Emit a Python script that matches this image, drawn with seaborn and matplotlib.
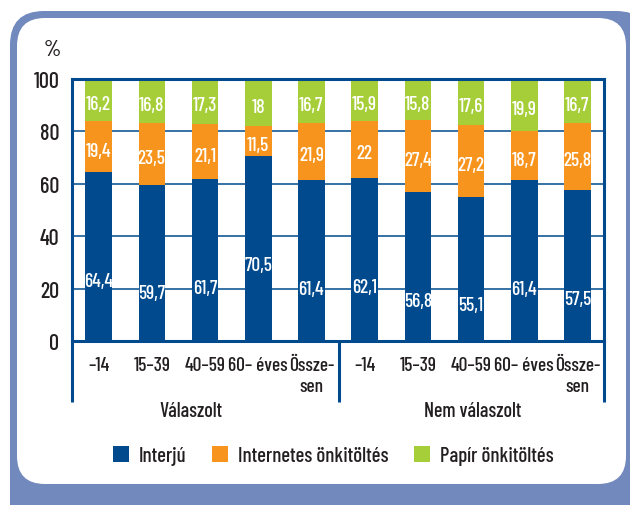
import matplotlib
matplotlib.use("Agg")
import matplotlib.pyplot as plt
from matplotlib import font_manager
from matplotlib.patches import FancyBboxPatch, Patch
from matplotlib.transforms import IdentityTransform
from matplotlib.lines import Line2D
import seaborn as sns
import pandas as pd

# ---- data ----
groups = ["Válaszolt", "Nem válaszolt"]
age_labels = ["–14", "15–39", "40–59", "60– éves", "Össze-\nsen"]
series_names = ["Interjú", "Internetes önkitöltés", "Papír önkitöltés"]
interju = [64.4, 59.7, 61.7, 70.5, 61.4, 62.1, 56.8, 55.1, 61.4, 57.5]
internetes = [19.4, 23.5, 21.1, 11.5, 21.9, 22.0, 27.4, 27.2, 18.7, 25.8]
papir = [16.2, 16.8, 17.3, 18.0, 16.7, 15.9, 15.8, 17.6, 19.9, 16.7]
y_ticks = [0, 20, 40, 60, 80, 100]

colors = ["#004A8D", "#F7941E", "#A6CE39"]
navy = "#004A8D"
frame_col = "#7189BD"
text_col = "#231F20"

names = {f.name for f in font_manager.fontManager.ttflist}
font = "DejaVu Sans"
for cand in ["Barlow Condensed", "Sofia Sans Condensed", "Archivo Narrow", "Saira ExtraCondensed"]:
    if cand in names:
        font = cand
        break

sns.set_theme(style="white")
plt.rcParams["font.family"] = [font, "DejaVu Sans"]
plt.rcParams["font.weight"] = "medium"
plt.rcParams["text.color"] = text_col

keys = [f"{g}|{a}" for g in groups for a in age_labels]
df = pd.DataFrame({
    "key": keys,
    "Interjú": interju,
    "Internetes": internetes,
    "Papír": papir,
})
df["c1"] = df["Interjú"]
df["c2"] = df["Interjú"] + df["Internetes"]
df["c3"] = df["c2"] + df["Papír"]

fig = plt.figure(figsize=(6.3, 5.06), dpi=100)

# frame
outer = FancyBboxPatch((10, -40), 640, 40 + 494, boxstyle="round,pad=0,rounding_size=34",
                       transform=IdentityTransform(), facecolor=frame_col, edgecolor="none", zorder=0)
inner = FancyBboxPatch((17, 506 - 485), 626 - 17, 485 - 19, boxstyle="round,pad=0,rounding_size=28",
                       transform=IdentityTransform(), facecolor="white", edgecolor="none", zorder=0)
fig.add_artist(outer)
fig.add_artist(inner)

ax = fig.add_axes([72 / 630, 164 / 506, 532 / 630, 262 / 506])
ax.patch.set_alpha(0)

for col, c in zip(["c3", "c2", "c1"], [colors[2], colors[1], colors[0]]):
    sns.barplot(data=df, x="key", y=col, order=keys, color=c, width=0.5,
                saturation=1, ax=ax, edgecolor="none", linewidth=0)

fs = 14
ax.set_xlim(-0.5, 9.5)
ax.set_ylim(0, 100)
ax.set_yticks(y_ticks)
ax.set_yticklabels([str(t) for t in y_ticks], fontsize=16, color=text_col)
ax.set_xticks(range(len(keys)))
ax.set_xticklabels(age_labels * 2, fontsize=fs, color=text_col, linespacing=1.2)
ax.tick_params(axis="y", length=0, pad=9)
ax.tick_params(axis="x", length=0, pad=11)
ax.set_xlabel("")
ax.set_ylabel("")
ax.set_axisbelow(True)
for t in [20, 40, 60, 80]:
    ax.axhline(t, color=navy, lw=1.1, zorder=0.5)

for s in ["left", "right", "top", "bottom"]:
    ax.spines[s].set_visible(True)
    ax.spines[s].set_color(navy)
    ax.spines[s].set_linewidth(2.2)

# extensions below the axis
ext = -(403 - 342) / 262
for xa in [0, 0.501, 1]:
    ax.add_line(Line2D([xa, xa], [0, ext], transform=ax.transAxes, color=navy,
                       lw=2.2, clip_on=False, solid_capstyle="butt"))

# value labels
def fmt(v):
    return f"{v:g}".replace(".", ",")

for i in range(len(keys)):
    a, b, c = interju[i], internetes[i], papir[i]
    ax.text(i, a - 41.5, fmt(a), ha="center", va="center", color="white", fontsize=fs)
    ax.text(i, a + b / 2 - 1.5, fmt(b), ha="center", va="center", color="white", fontsize=fs)
    ax.text(i, a + b + c / 2 - 1.5, fmt(c), ha="center", va="center", color="white", fontsize=fs)

# group labels
ax.text(1.73, -0.265, groups[0], transform=ax.get_xaxis_transform(), ha="center",
        va="center", fontsize=14.5, color=text_col, clip_on=False)
ax.text(7.03, -0.265, groups[1], transform=ax.get_xaxis_transform(), ha="center",
        va="center", fontsize=14.5, color=text_col, clip_on=False)

ax.text(-0.038, 1.115, "%", transform=ax.transAxes, ha="center", va="center",
        fontsize=16, color=text_col)

handles = [Patch(facecolor=c, edgecolor="none") for c in colors]
fig.legend(handles, series_names, loc="center", bbox_to_anchor=(0.529, 0.097), ncol=3,
           frameon=False, fontsize=15, handlelength=0.77, handleheight=0.77,
           handletextpad=0.45, columnspacing=1.25)

fig.savefig("out.png", dpi=100)
